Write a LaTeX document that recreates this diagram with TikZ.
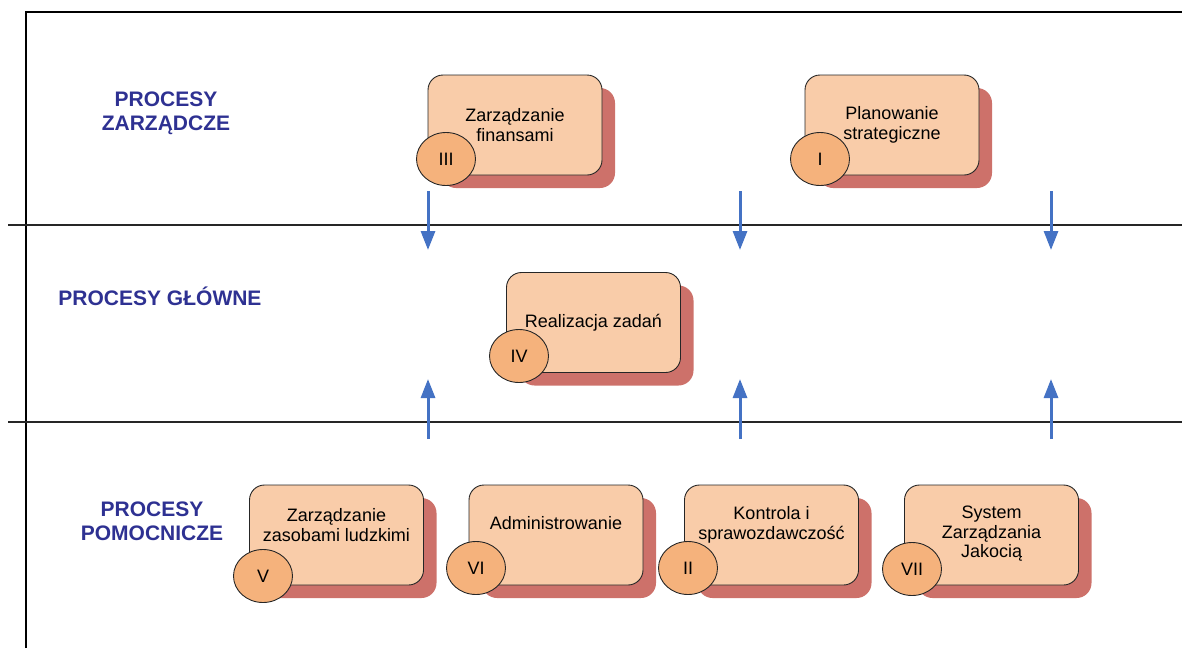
\documentclass[tikz,border=0pt]{standalone}
\usepackage{fontspec}
\setmainfont{Liberation Sans}
\usetikzlibrary{arrows.meta,shapes.geometric,shadows}
\definecolor{boxfill}{RGB}{249,204,169}
\definecolor{circfill}{RGB}{245,178,124}
\definecolor{shadowc}{RGB}{205,113,106}
\definecolor{headc}{RGB}{46,49,146}
\definecolor{arrowc}{RGB}{68,114,196}
\begin{document}
\begin{tikzpicture}[x=1pt,y=-1pt,
  procbox/.style={draw=black!85,line width=0.9pt,fill=boxfill,rounded corners=15pt,
    minimum width=174pt,minimum height=100pt,
    drop shadow={shadow xshift=13pt,shadow yshift=-13pt,opacity=1,fill=shadowc,shadow scale=1}},
  boxtext/.style={align=center,font=\fontsize{18}{19.5}\selectfont},
  numcirc/.style={ellipse,draw=black!85,line width=0.9pt,fill=circfill,minimum width=59pt,
    minimum height=53pt,inner sep=0pt,font=\fontsize{18}{20}\selectfont},
  head/.style={align=center,text=headc,font=\fontsize{21}{24}\selectfont\bfseries},
  sepline/.style={line width=1.8pt,black!85},
  frameline/.style={line width=1.3pt,black},
  flow/.style={arrowc,line width=3pt,-{Triangle[length=19pt,width=14pt]}}]
\useasboundingbox (0,0) rectangle (1182,648);
% frame and separators
\coordinate (fTL) at (26,12);
\coordinate (fTR) at (1182,12);
\coordinate (fBL) at (26,648);
\coordinate (s1L) at (8,225);
\coordinate (s1R) at (1182,225);
\coordinate (s2L) at (8,422);
\coordinate (s2R) at (1182,422);
\draw[frameline] (fBL) -- (fTL) -- (fTR);
\draw[sepline] (s1L) -- (s1R);
\draw[sepline] (s2L) -- (s2R);
% headings
\node[head] (h1) at (166,113) {PROCESY\\ZARZĄDCZE};
\node[head] (h2) at (160,296) {PROCESY GŁÓWNE};
\node[head] (h3) at (152,521) {PROCESY\\POMOCNICZE};
% arrows
\coordinate (a1s) at (428,191);
\coordinate (a1e) at (428,250);
\coordinate (a2s) at (740,191);
\coordinate (a2e) at (740,250);
\coordinate (a3s) at (1051,191);
\coordinate (a3e) at (1051,250);
\coordinate (u1s) at (428,439);
\coordinate (u1e) at (428,379);
\coordinate (u2s) at (740,439);
\coordinate (u2e) at (740,379);
\coordinate (u3s) at (1051,439);
\coordinate (u3e) at (1051,379);
\foreach \s/\e in {a1s/a1e,a2s/a2e,a3s/a3e,u1s/u1e,u2s/u2e,u3s/u3e}
  \draw[flow] (\s) -- (\e);
% boxes
\node[procbox] (b3) at (515,125) {};
\node[boxtext] (t3) at (515,125) {Zarządzanie\\finansami};
\node[numcirc] (c3) at (446,159) {III};
\node[procbox] (b1) at (892,125) {};
\node[boxtext] (t1) at (892,125) {Planowanie\\strategiczne};
\node[numcirc] (c1) at (820,159) {I};
\node[procbox] (b4) at (593.5,322.5) {};
\node[boxtext] (t4) at (593.5,322.5) {Realizacja zadań};
\node[numcirc] (c4) at (519,356) {IV};
\node[procbox] (b5) at (336.5,535) {};
\node[boxtext] (t5) at (336.5,525) {Zarządzanie\\zasobami ludzkimi};
\node[numcirc] (c5) at (263,576) {V};
\node[procbox] (b6) at (556,535) {};
\node[boxtext] (t6) at (556,523) {Administrowanie};
\node[numcirc] (c6) at (476,568) {VI};
\node[procbox] (b2) at (771.5,535) {};
\node[boxtext] (t2) at (771.5,525) {Kontrola i\\sprawozdawczość};
\node[numcirc] (c2) at (688,568) {II};
\node[procbox] (b7) at (991.5,535) {};
\node[boxtext] (t7) at (991.5,534) {System\\Zarządzania\\Jakocią};
\node[numcirc] (c7) at (912,569) {VII};
\end{tikzpicture}
\end{document}
